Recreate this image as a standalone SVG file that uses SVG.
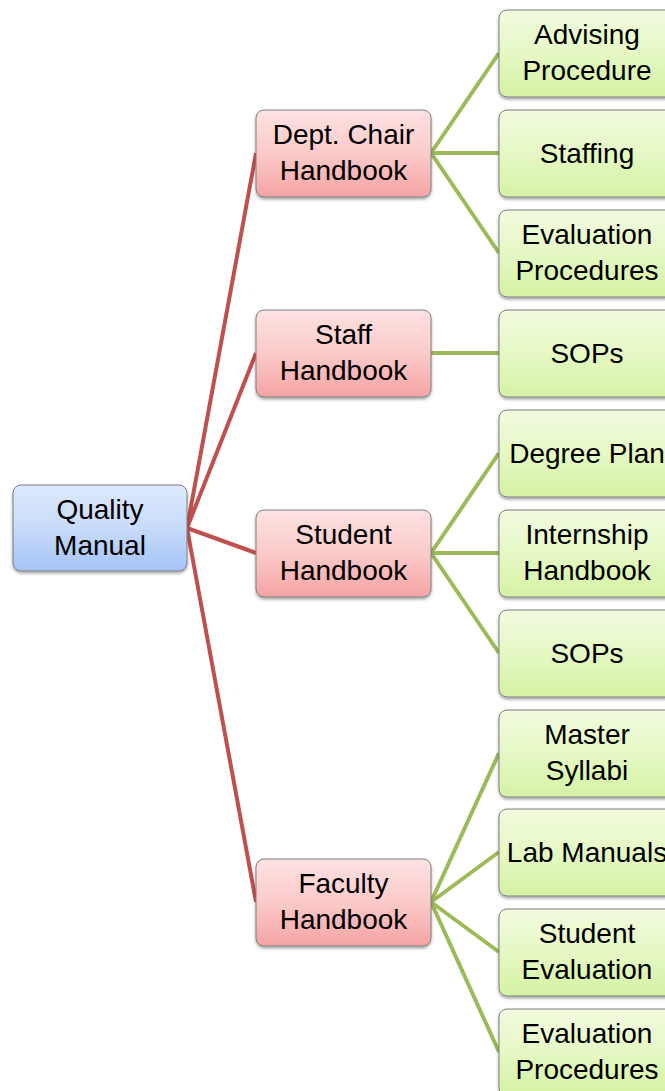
<svg xmlns="http://www.w3.org/2000/svg" width="665" height="1091" viewBox="0 0 665 1091">
<style>
.node rect{stroke:#7f7f7f;stroke-width:1;filter:url(#sh)}
.node text{font-family:"Liberation Sans",Arial,sans-serif;font-size:28px;fill:#000;text-anchor:middle}
.blue rect{fill:url(#gb)}
.pink rect{fill:url(#gp)}
.green rect{fill:url(#gg)}
.red{stroke:#c0504d;stroke-width:4;fill:none}
.grn{stroke:#9bbb59;stroke-width:4;fill:none}
</style>
<defs>
<linearGradient id="gb" x1="0" y1="0" x2="0" y2="1"><stop offset="0" stop-color="#dde9fc"/><stop offset="0.5" stop-color="#c8dbfa"/><stop offset="1" stop-color="#a3c2f4"/></linearGradient>
<linearGradient id="gp" x1="0" y1="0" x2="0" y2="1"><stop offset="0" stop-color="#fde2e2"/><stop offset="0.5" stop-color="#fbcaca"/><stop offset="1" stop-color="#f5a3a3"/></linearGradient>
<linearGradient id="gg" x1="0" y1="0" x2="0" y2="1"><stop offset="0" stop-color="#f1fbdf"/><stop offset="0.5" stop-color="#e5f8c4"/><stop offset="1" stop-color="#d5f2a3"/></linearGradient>
<filter id="sh" x="-10%" y="-10%" width="120%" height="130%"><feDropShadow dx="0" dy="2" stdDeviation="1.5" flood-color="#000" flood-opacity="0.35"/></filter>
</defs>
<g id="connectors">
<path class="red" d="M187 528 L256 153 M187 528 L256 353 M187 528 L256 553 M187 528 L256 902"/>
<path class="grn" d="M431 153 L499 53 M431 153 L499 153 M431 153 L499 253"/>
<path class="grn" d="M431 353 L499 353"/>
<path class="grn" d="M431 553 L499 453 M431 553 L499 553 M431 553 L499 653"/>
<path class="grn" d="M431 902 L499 753 M431 902 L499 852 M431 902 L499 952 M431 902 L499 1052"/>
</g>
<g id="n-quality" class="node blue"><rect x="13" y="485" width="174" height="86" rx="8"/><text x="100" y="519">Quality</text><text x="100" y="555">Manual</text></g>
<g id="n-dept" class="node pink"><rect x="256" y="110" width="175" height="87" rx="8"/><text x="343.5" y="144">Dept. Chair</text><text x="343.5" y="180">Handbook</text></g>
<g id="n-staff" class="node pink"><rect x="256" y="310" width="175" height="87" rx="8"/><text x="343.5" y="344">Staff</text><text x="343.5" y="380">Handbook</text></g>
<g id="n-student" class="node pink"><rect x="256" y="510" width="175" height="87" rx="8"/><text x="343.5" y="544">Student</text><text x="343.5" y="580">Handbook</text></g>
<g id="n-faculty" class="node pink"><rect x="256" y="859" width="175" height="87" rx="8"/><text x="343.5" y="893">Faculty</text><text x="343.5" y="929">Handbook</text></g>
<g id="n-advising" class="node green"><rect x="499" y="10" width="175" height="87" rx="8"/><text x="587" y="44">Advising</text><text x="587" y="80">Procedure</text></g>
<g id="n-staffing" class="node green"><rect x="499" y="110" width="175" height="87" rx="8"/><text x="587" y="163">Staffing</text></g>
<g id="n-eval1" class="node green"><rect x="499" y="210" width="175" height="87" rx="8"/><text x="587" y="244">Evaluation</text><text x="587" y="280">Procedures</text></g>
<g id="n-sops1" class="node green"><rect x="499" y="310" width="175" height="87" rx="8"/><text x="587" y="363">SOPs</text></g>
<g id="n-degree" class="node green"><rect x="499" y="410" width="175" height="87" rx="8"/><text x="587" y="463">Degree Plan</text></g>
<g id="n-intern" class="node green"><rect x="499" y="510" width="175" height="87" rx="8"/><text x="587" y="544">Internship</text><text x="587" y="580">Handbook</text></g>
<g id="n-sops2" class="node green"><rect x="499" y="610" width="175" height="87" rx="8"/><text x="587" y="663">SOPs</text></g>
<g id="n-master" class="node green"><rect x="499" y="710" width="175" height="87" rx="8"/><text x="587" y="744">Master</text><text x="587" y="780">Syllabi</text></g>
<g id="n-lab" class="node green"><rect x="499" y="809" width="175" height="87" rx="8"/><text x="587" y="862">Lab Manuals</text></g>
<g id="n-stueval" class="node green"><rect x="499" y="909" width="175" height="87" rx="8"/><text x="587" y="943">Student</text><text x="587" y="979">Evaluation</text></g>
<g id="n-eval2" class="node green"><rect x="499" y="1009" width="175" height="87" rx="8"/><text x="587" y="1043">Evaluation</text><text x="587" y="1079">Procedures</text></g>
</svg>
